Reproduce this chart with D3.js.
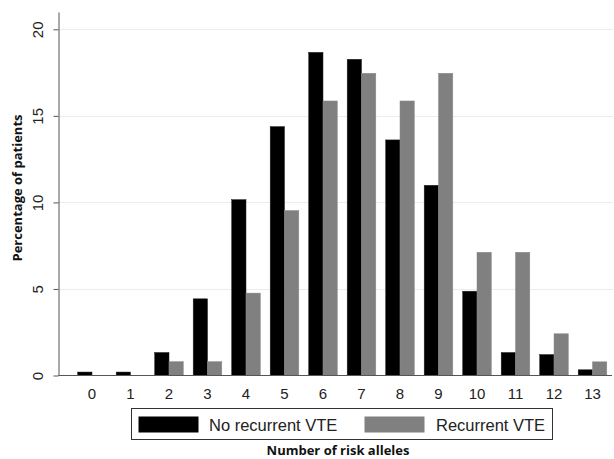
<!DOCTYPE html>
<html>
<head>
<meta charset="utf-8">
<script src="https://cdn.jsdelivr.net/npm/d3@7"></script>
<style>
  body { margin: 0; background: #fff; }
  svg { display: block; }
</style>
</head>
<body>
<svg id="chart" width="614" height="459"></svg>
<script>
const categories = ["0","1","2","3","4","5","6","7","8","9","10","11","12","13"];
const seriesNames = ["No recurrent VTE", "Recurrent VTE"];
const noRecurrent = [0.2, 0.2, 1.33, 4.43, 10.16, 14.38, 18.67, 18.27, 13.61, 10.99, 4.87, 1.33, 1.21, 0.33];
const recurrent   = [0, 0, 0.8, 0.8, 4.76, 9.53, 15.86, 17.46, 15.86, 17.46, 7.12, 7.12, 2.41, 0.79];
const yTicks = [0, 5, 10, 15, 20];
const colors = ["#000000", "#808080"];

const svg = d3.select("#chart");

const x = d3.scaleBand().domain(categories).range([72.75, 611.75]).paddingInner(0.257).paddingOuter(0.1285);
const xSub = d3.scaleBand().domain(seriesNames).range([0, x.bandwidth()]);
const y = d3.scaleLinear().domain([0, 21]).range([375.5, 12]);

// gridlines
svg.append("g").selectAll("line").data(yTicks.filter(d => d > 0)).join("line")
  .attr("x1", 59).attr("x2", 613)
  .attr("y1", d => Math.round(y(d)) + 0.5).attr("y2", d => Math.round(y(d)) + 0.5)
  .attr("stroke", "#ececec").attr("stroke-width", 1);

// bars
const data = categories.map((c, i) => ({c, vals: [noRecurrent[i], recurrent[i]]}));
const groups = svg.append("g").selectAll("g").data(data).join("g")
  .attr("transform", d => `translate(${x(d.c)},0)`);
groups.selectAll("rect").data(d => d.vals.map((v, j) => ({v, j})).filter(e => e.v > 0)).join("rect")
  .attr("x", e => xSub(seriesNames[e.j]))
  .attr("width", xSub.bandwidth())
  .attr("y", e => y(e.v))
  .attr("height", e => y(0) - y(e.v))
  .attr("fill", e => colors[e.j])
  .attr("stroke", e => e.j === 0 ? "#222" : "#8a8a8a")
  .attr("stroke-width", 0.5);

// y axis
const yAxis = d3.axisLeft(y).tickValues(yTicks).tickSize(5).tickSizeOuter(0).tickFormat(d3.format("d"));
const gy = svg.append("g").attr("transform", "translate(58.5,0)").call(yAxis);
gy.select(".domain").attr("stroke", "#555");
gy.selectAll(".tick line").attr("stroke", "#555");
gy.selectAll(".tick text")
  .attr("font-family", "Liberation Sans, Arial, sans-serif")
  .attr("font-size", 15).attr("fill", "#222")
  .attr("x", null).attr("dy", null)
  .attr("text-anchor", "middle")
  .attr("transform", "translate(-15.5,0) rotate(-90)");

// x axis
const xAxis = d3.axisBottom(x).tickSize(0).tickSizeOuter(0).tickPadding(0);
const gx = svg.append("g").attr("transform", `translate(0,${y(0)})`).call(xAxis);
gx.select(".domain").attr("stroke", "#555").attr("d", "M58.5,0H612");
gx.selectAll(".tick text")
  .attr("font-family", "Liberation Sans, Arial, sans-serif")
  .attr("font-size", 15).attr("fill", "#222")
  .attr("y", 23).attr("dy", null);

// axis titles
svg.append("text")
  .attr("transform", "translate(22,188) rotate(-90)")
  .attr("text-anchor", "middle")
  .attr("font-family", "Open Sans, Lato, sans-serif").attr("font-weight", "bold")
  .attr("font-size", 13).attr("fill", "#111")
  .text("Percentage of patients");

svg.append("text")
  .attr("x", 338).attr("y", 455)
  .attr("text-anchor", "middle")
  .attr("font-family", "Open Sans, Lato, sans-serif").attr("font-weight", "bold")
  .attr("font-size", 13).attr("fill", "#111")
  .text("Number of risk alleles");

// legend
const leg = svg.append("g");
leg.append("rect").attr("x", 131.5).attr("y", 408.5).attr("width", 421).attr("height", 31)
  .attr("fill", "#fff").attr("stroke", "#333").attr("stroke-width", 1);
const legItems = [
  {name: seriesNames[0], color: colors[0], sx: 138.5, tx: 209},
  {name: seriesNames[1], color: colors[1], sx: 364.5, tx: 436}
];
legItems.forEach(it => {
  leg.append("rect").attr("x", it.sx).attr("y", 416.5).attr("width", 60).attr("height", 16).attr("fill", it.color);
  leg.append("text").attr("x", it.tx).attr("y", 430.5)
    .attr("font-family", "Liberation Sans, Arial, sans-serif").attr("font-size", 16.5).attr("fill", "#222")
    .text(it.name);
});
</script>
</body>
</html>
